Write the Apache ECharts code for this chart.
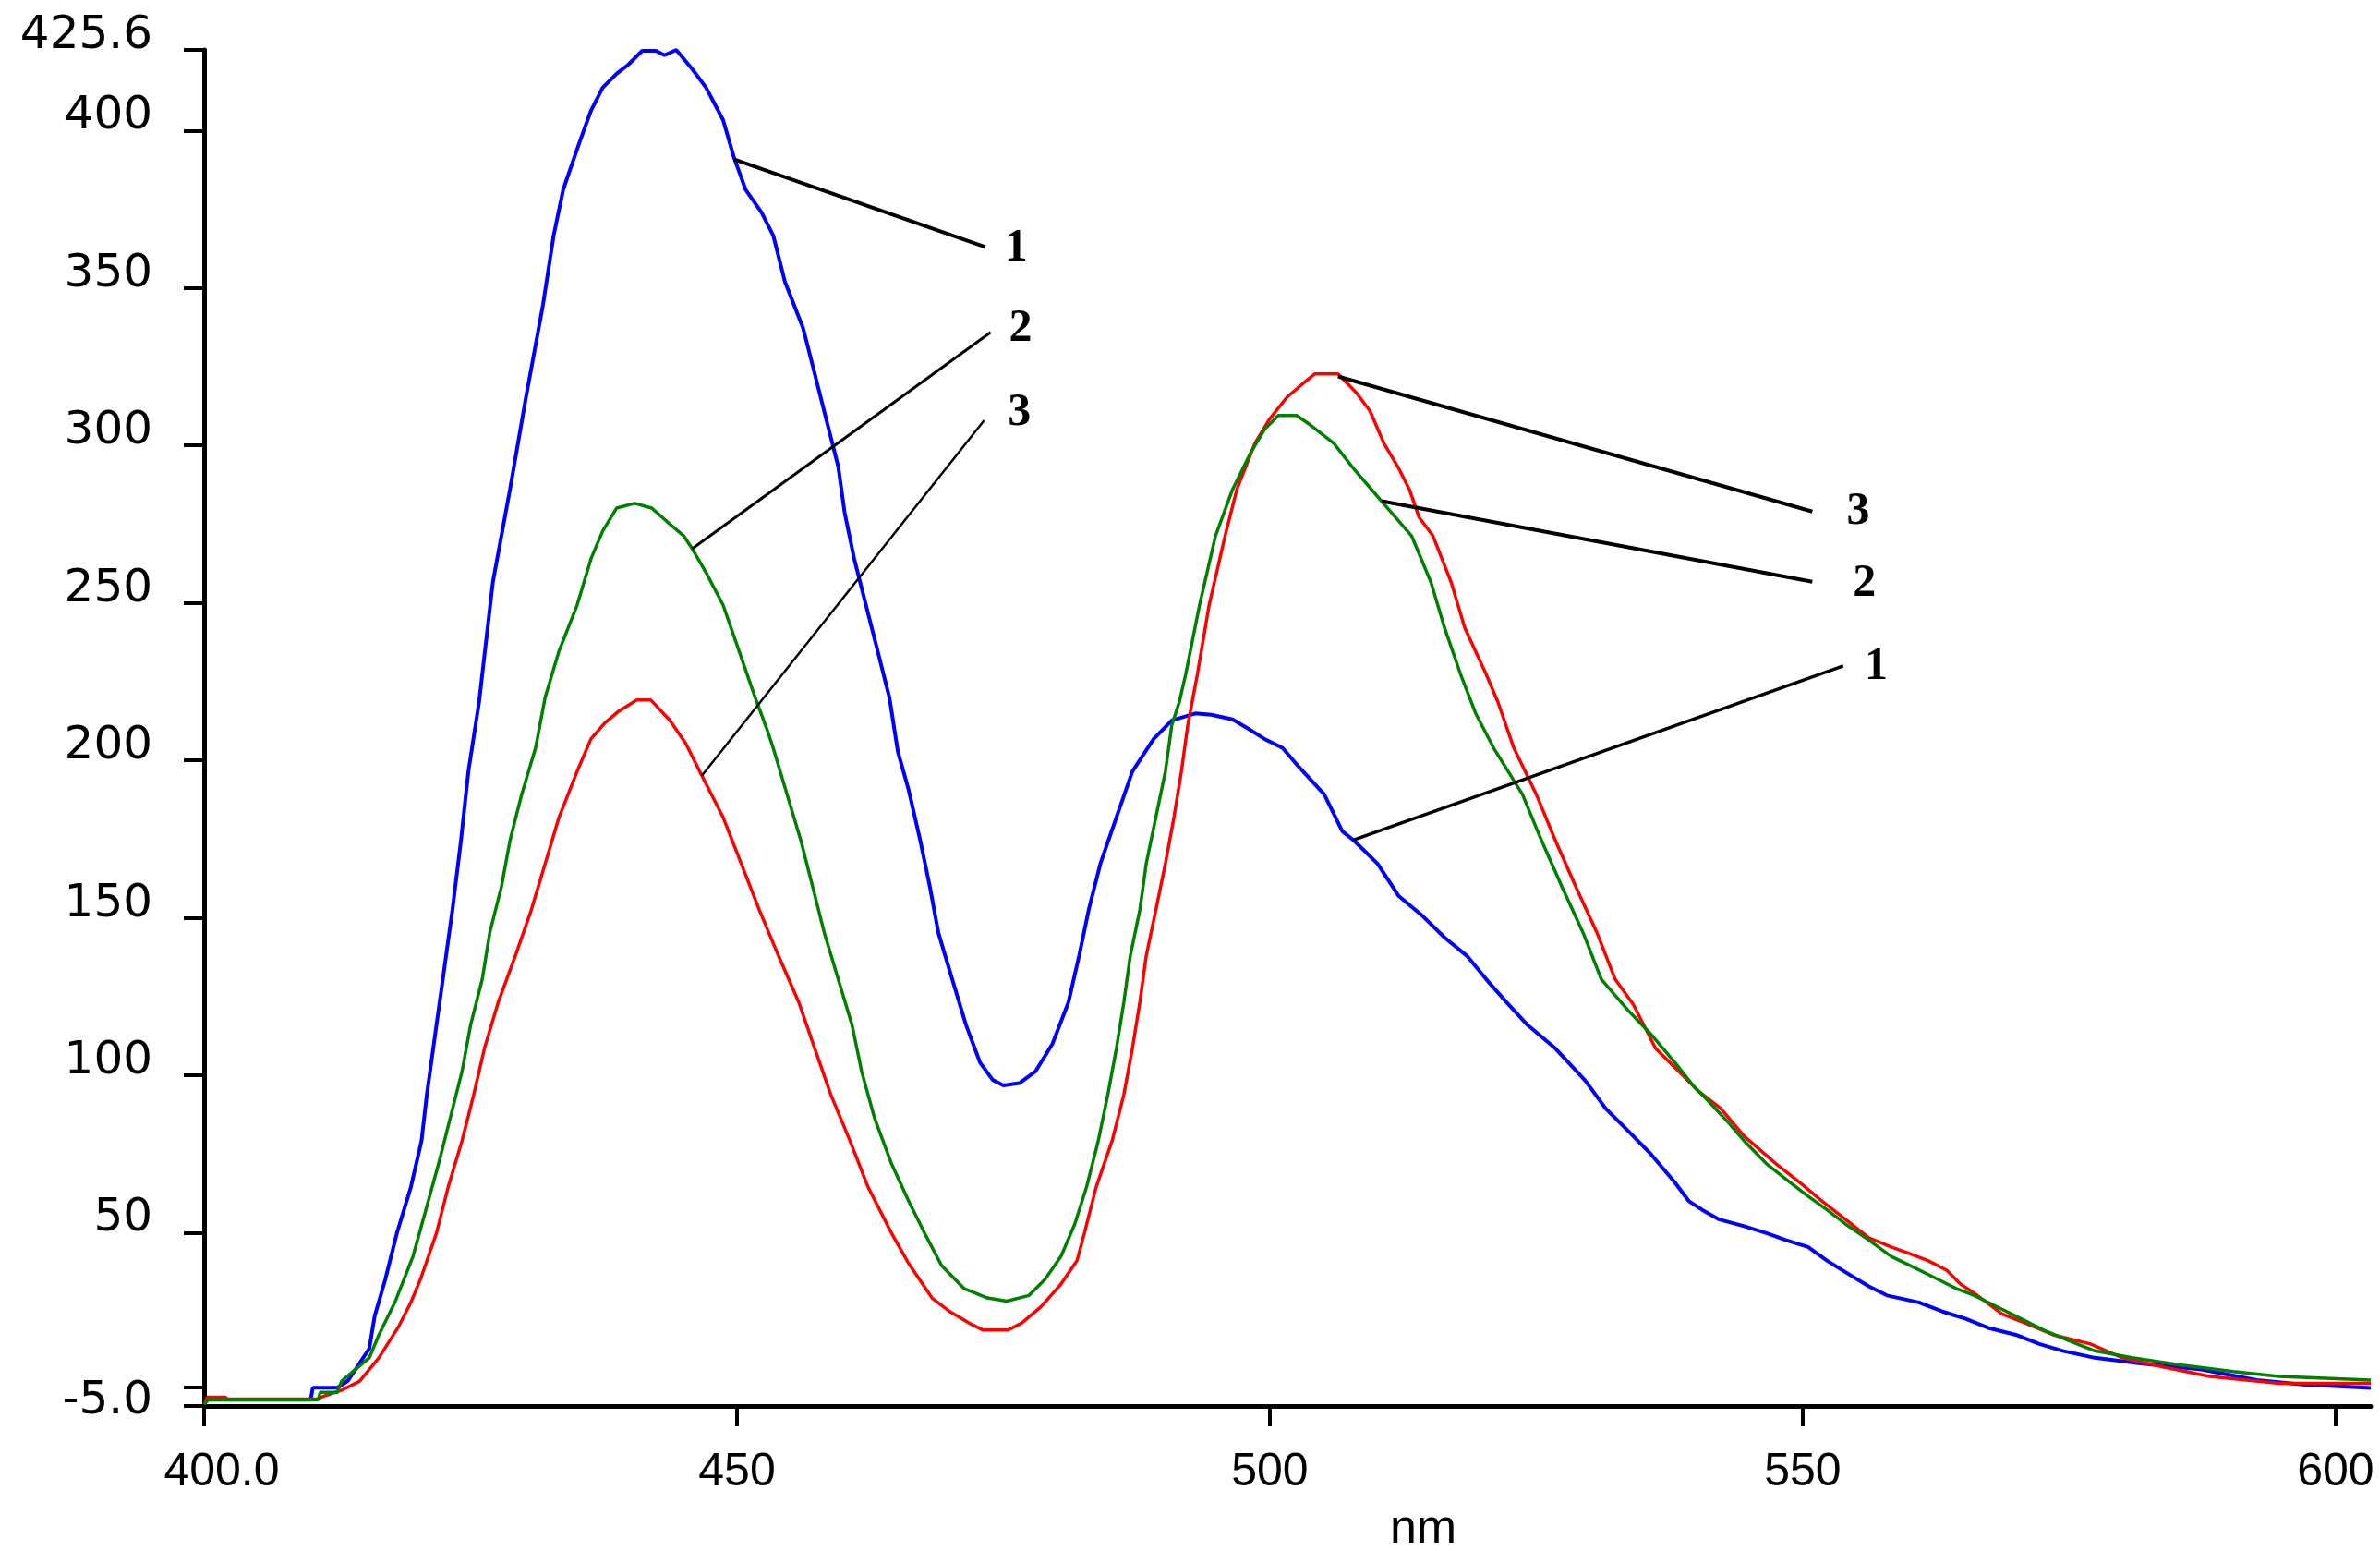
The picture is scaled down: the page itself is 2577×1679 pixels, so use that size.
<!DOCTYPE html>
<html><head><meta charset="utf-8">
<script src="https://cdn.jsdelivr.net/npm/echarts@6/dist/echarts.min.js"></script>
<style>html,body{margin:0;padding:0;background:#fff}#c{width:2577px;height:1679px}</style>
</head><body><div id="c"></div>
<script>
// Spectrum 1 (blue): [nm, intensity]
const spectrum1 = [[400,-3],[410,-3],[410.2,0.8],[412.5,0.8],[413.5,3],[415.5,13.2],[416,23.5],[417,35.2],[418.1,50],[419.4,64.5],[420.4,79.2],[420.9,93.9],[421.8,115.9],[422.4,130.5],[423.3,152.5],[424.1,174.5],[424.8,196.5],[425.8,218.5],[426.1,227.3],[427.1,256.7],[428.7,286],[430.2,315.3],[431.8,344.7],[432.8,366.7],[433.7,381.3],[435.2,396],[436.3,406.3],[437.4,413.6],[438.7,418],[439.8,420.9],[441.1,425.3],[442.4,425.3],[443.2,423.9],[444.3,425.6],[445.8,419.5],[447.1,413.6],[448.7,403.3],[449.7,391.6],[450.8,381.3],[452.3,374],[453.4,366.7],[454.5,352],[456.2,337.3],[457.3,322.7],[458.4,308],[459.5,293.3],[460.1,278.7],[461,264],[462.1,249.3],[463.2,234.7],[464.3,220],[465.1,202.7],[466.1,190.7],[467.2,174.5],[468.1,159.9],[468.9,145.2],[470.2,130.5],[471.5,115.9],[472.8,104.1],[474,98.5],[475,96.8],[476.5,97.5],[478,101.2],[479.6,110],[481.1,123.2],[482.1,137.9],[483,152.5],[484.1,167.2],[485.6,181.9],[487.1,196.5],[489.1,206.8],[490.8,212.7],[493,214.9],[494.5,214.5],[496.5,213],[498,210],[499.5,206.8],[501.2,203.9],[502.7,198],[505.1,189.2],[506.8,177.5],[507.9,174.5],[510.1,167.2],[512.1,156.9],[514.2,151],[516.4,143.7],[518.5,137.9],[520.3,130.5],[522.2,123.2],[524.2,115.9],[526.8,108.5],[529.6,98.3],[531.5,89.5],[533.7,82.1],[535.8,74.8],[538,66],[539.3,60.1],[540.6,57.2],[542.1,54.3],[544.5,52.1],[546.6,49.9],[548.4,47.7],[550.5,45.5],[552.3,41.1],[554.4,36.7],[556.2,33],[557.9,30.1],[560.9,27.9],[563.1,25],[565.3,22.7],[567.4,19.8],[570,17.6],[572.2,14.7],[574.4,12.5],[577.4,10.3],[581.7,8.5],[587.4,6.6],[592.6,3.2],[596.9,1.8],[603.3,0.7]];

// Spectrum 2 (green)
const spectrum2 = [[400,-4.5],[400.4,-3],[410.7,-3],[410.9,-0.7],[412.5,-0.7],[412.9,2.9],[415.5,10.3],[416.4,17.6],[417.9,27.9],[419.6,42.5],[420.8,57.2],[422,71.9],[423.1,86.5],[424.2,101.2],[425,115.9],[426.1,130.5],[426.8,145.2],[427.9,159.9],[428.7,174.5],[429.8,189.2],[431.1,203.9],[432,220],[433.3,234.7],[435,249.3],[436.3,264],[437.4,272.8],[438.7,280.1],[440.4,281.6],[442,280.1],[443.7,275],[445,271.3],[445.8,267.2],[447.1,259.6],[448.7,249.3],[450.2,234.7],[451.7,220],[452.8,210],[453.4,203.9],[454.7,189.2],[456,174.5],[457.1,159.9],[458.2,145.2],[459.5,130.5],[460.8,115.9],[461.7,101.2],[462.9,86.5],[464.5,71.9],[466.1,60.1],[467.6,49.9],[469.2,39.6],[471.3,32.3],[473.5,29.3],[475.3,28.3],[477.4,30.1],[478.9,35.2],[480.4,42.5],[481.7,52.8],[482.8,64.5],[483.9,79.2],[484.8,93.9],[485.6,108.5],[486.3,123.2],[486.9,137.9],[487.8,152.5],[488.4,167.2],[489.3,181.9],[490.2,196.5],[490.8,211.2],[491.5,218.5],[492.1,227.3],[493.4,249.3],[494.9,271.3],[496.5,286],[498.2,297.7],[499.5,305.1],[500.8,309.5],[502.5,309.5],[503.8,306.5],[506,300.7],[507.7,293.3],[510.3,283],[513.3,271.3],[515.1,256.7],[516.4,242],[517.9,227.3],[519.3,215],[521,203.9],[523.7,189.2],[525.5,174.5],[527.4,159.9],[529.4,145.2],[531.1,130.5],[533.7,120.3],[535.8,112.9],[538,104.1],[539.7,96.8],[541.4,90.9],[543,85.1],[544.5,79.2],[546.6,71.9],[548.8,66],[550.5,61.6],[552.3,57.2],[554,52.8],[556.2,47.7],[558.3,42.5],[560.5,38.9],[562.7,35.2],[564.4,32.3],[566.1,30.1],[568.3,26.4],[570.5,22.7],[572.6,19.1],[575.2,15.4],[577.4,12.5],[580.9,10.3],[585.2,8.1],[590.4,5.9],[594.7,4.4],[603.3,3.2]];

// Spectrum 3 (red)
const spectrum3 = [[400,-4.5],[400.3,-2.2],[402,-2.2],[402.2,-2.8],[410.7,-2.8],[411,-2.2],[412.9,0],[414.6,2.9],[416.4,10.3],[418.3,20.5],[419.4,27.9],[420.3,35.2],[421.8,49.9],[422.9,64.5],[424.2,79.2],[425.3,93.9],[426.3,108.5],[427.6,123.2],[429.2,137.9],[430.7,152.5],[432,167.2],[433.3,181.9],[435,196.5],[436.3,206.8],[437.6,211.9],[438.9,215.6],[440.6,219.2],[441.9,219.2],[443.7,212.7],[445.2,205.3],[446.5,196.5],[448.7,181.9],[450.4,167.2],[452.1,152.5],[453.9,137.9],[455.8,123.2],[457.3,108.5],[458.8,93.9],[460.6,79.2],[462.3,64.5],[464.5,49.9],[466.1,40.3],[468.3,29.3],[470,24.9],[471.8,21.3],[473.1,19.1],[475.4,19.1],[476.7,21.3],[478.5,26.4],[480.4,33.7],[481.9,41.1],[482.6,49.9],[483.7,64.5],[485.2,79.2],[486.3,93.9],[487.1,108.5],[487.8,123.2],[488.4,137.9],[489.3,152.5],[490.2,167.2],[491,181.9],[491.7,196.5],[492.3,211.2],[493.2,227.3],[494.3,249.3],[495.8,271.3],[496.9,286],[498.6,300.7],[499.9,308],[501.6,315.3],[503.4,320.5],[504.2,322.7],[506.4,322.7],[508.1,316.8],[509.4,310.9],[510.7,300.7],[512,293.3],[513.1,286],[514,277.2],[515.3,271.3],[517,256.7],[518.3,242],[520.3,227.3],[521.4,218.5],[522.9,203.9],[525,189.2],[526.8,174.5],[528.7,159.9],[530.7,145.2],[532.4,130.5],[534.1,122.5],[536.2,108.5],[538.4,101.2],[540.1,95.3],[542.3,89.5],[544.5,80.7],[547.5,71.9],[549.7,66],[551.8,60.1],[554,54.3],[556.2,48.4],[558.3,45.5],[560.1,43.3],[561.8,41.1],[563.5,38.1],[564.8,33.7],[566.1,30.8],[568.7,24.2],[570.9,21.3],[573.5,17.6],[577,14.7],[580,10.3],[583.9,7.3],[588.2,4.4],[594.7,2.2],[603.3,2.2]];

// Axis ticks and labels
const xTickValues = [400, 450, 500, 550, 600];
const xTickLabels = ['400.0', '450', '500', '550', '600'];
const yLabelValues = [-5, 50, 100, 150, 200, 250, 300, 350, 400, 425.6];
const yTickLabels = ['-5.0', '50', '100', '150', '200', '250', '300', '350', '400', '425.6'];
const yTickValues = [-5, 0.9, 50, 100, 150, 200, 250, 300, 350, 400, 425.6];

// Leader lines (from curve point to label) and their labels
const leaderLines = [
  [[449.7, 390.9], [473.3, 363.0]],
  [[445.8, 267.2], [473.8, 335.9]],
  [[446.7, 195.1], [473.2, 308.0]],
  [[506.4, 321.9], [550.9, 279.0]],
  [[510.5, 282.3], [550.9, 256.7]],
  [[507.9, 174.8], [553.8, 230.0]]
];
const leaderWidths = [4, 3, 2.5, 4, 4, 3.5];
const leaderLabels = [
  [476.2, 362.6, '1'],
  [476.6, 337.0, '2'],
  [476.5, 310.2, '3'],
  [555.2, 279.0, '3'],
  [555.8, 256.0, '2'],
  [556.9, 229.5, '1']
];

const yFont = 'DejaVu Sans';
const xFont = 'Liberation Sans';
function pick(vals, labels, v) {
  let best = 0, d = Infinity;
  vals.forEach((x, i) => { const dd = Math.abs(x - v); if (dd < d) { d = dd; best = i; } });
  return d < 0.5 ? labels[best] : '';
}

const chart = echarts.init(document.getElementById('c'), null, {renderer: 'canvas'});
chart.setOption({
  backgroundColor: '#ffffff',
  animation: false,
  grid: {left: 221, right: 10, top: 54, bottom: 157, containLabel: false, outerBoundsMode: 'none'},
  xAxis: {
    type: 'value', min: 400, max: 603.3,
    axisLine: {show: true, onZero: false, lineStyle: {color: '#000', width: 5}},
    axisTick: {show: true, customValues: xTickValues, length: 22, lineStyle: {color: '#000', width: 4}},
    axisLabel: {show: true, customValues: xTickValues,
      formatter: v => { const t = pick(xTickValues, xTickLabels, v); return v === 400 ? '{first|' + t + '}' : t; },
      margin: 57, fontFamily: xFont, fontSize: 50, color: '#000', lineHeight: 30,
      rich: {first: {fontFamily: xFont, fontSize: 50, color: '#000', lineHeight: 30, padding: [0, 0, 0, 38]}}},
    splitLine: {show: false},
    name: 'nm', nameLocation: 'middle', nameGap: 134,
    nameTextStyle: {fontFamily: xFont, fontSize: 52, color: '#000', padding: [0, 0, 0, 294], verticalAlign: 'middle', lineHeight: 30}
  },
  yAxis: {
    type: 'value', min: -5, max: 425.6,
    axisLine: {show: true, onZero: false, lineStyle: {color: '#000', width: 5}},
    axisTick: {show: true, customValues: yTickValues, length: 22, lineStyle: {color: '#000', width: 4}},
    axisLabel: {show: true, customValues: yLabelValues,
      formatter: v => { const t = pick(yLabelValues, yTickLabels, v); return v < 0 ? '{lo|' + t + '}' : t; },
      margin: 56, fontFamily: yFont, fontSize: 50, color: '#000', verticalAlign: 'bottom', lineHeight: 30,
      rich: {lo: {fontFamily: yFont, fontSize: 50, color: '#000', lineHeight: 10}}},
    splitLine: {show: false}
  },
  series: [
    {name: '1', type: 'line', data: spectrum1, showSymbol: false, symbol: 'none', smooth: false,
      lineStyle: {color: '#0000ff', width: 4}, z: 2},
    {name: '3', type: 'line', data: spectrum3, showSymbol: false, symbol: 'none', smooth: false,
      lineStyle: {color: '#ff0000', width: 3.5}, z: 3},
    {name: '2', type: 'line', data: spectrum2, showSymbol: false, symbol: 'none', smooth: false,
      lineStyle: {color: '#008000', width: 3.5}, z: 4},
    {type: 'lines', coordinateSystem: 'cartesian2d', silent: true, z: 5,
      data: leaderLines.map((c, i) => ({coords: c, lineStyle: {width: leaderWidths[i]}})),
      lineStyle: {color: '#000', width: 4, opacity: 1, curveness: 0}, symbol: ['none', 'none']},
    {type: 'scatter', silent: true, z: 6, symbolSize: 1, itemStyle: {color: 'rgba(255,255,255,0)'},
      data: leaderLabels.map(d => ({value: [d[0], d[1]], name: d[2]})),
      label: {show: true, position: 'inside', formatter: p => p.name, fontFamily: 'Liberation Serif',
        fontWeight: 'bold', fontSize: 50, color: '#000', textBorderWidth: 0, opacity: 1}}
  ]
});
</script></body></html>
